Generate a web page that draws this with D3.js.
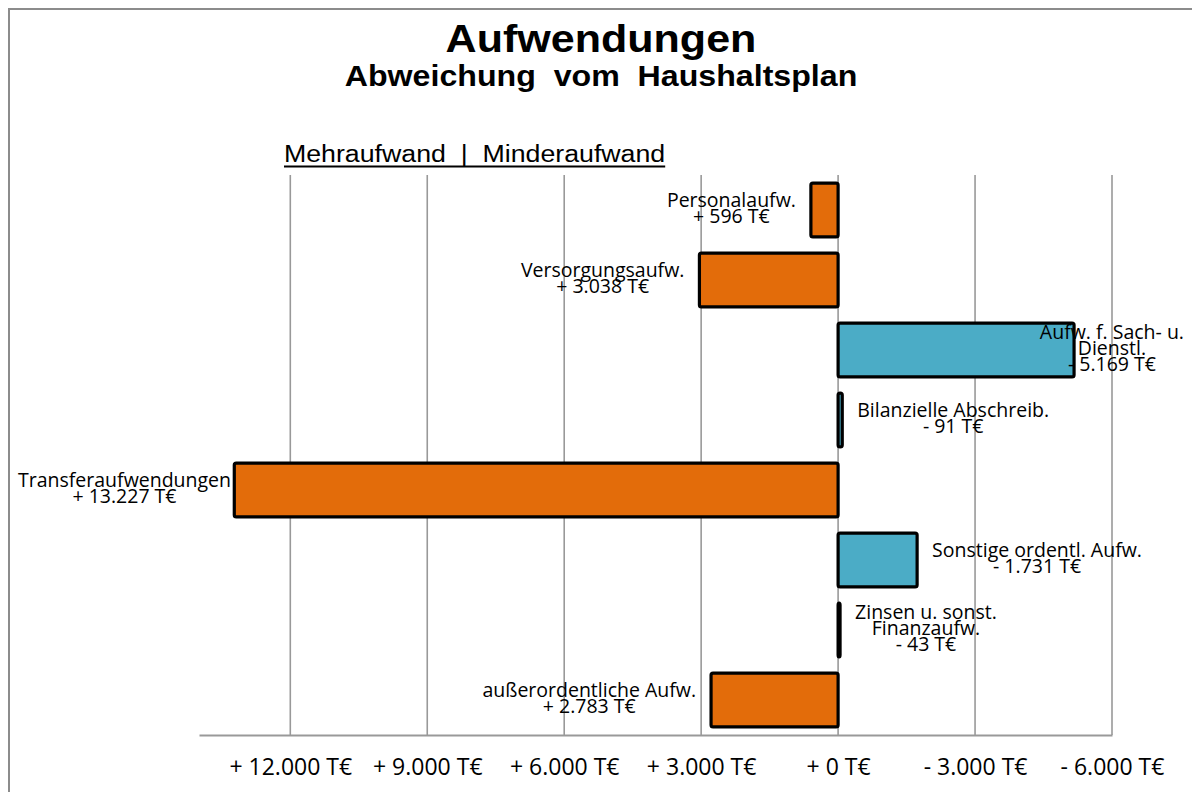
<!DOCTYPE html>
<html>
<head>
<meta charset="utf-8">
<script src="https://cdn.jsdelivr.net/npm/d3@7"></script>
<style>
  body { margin: 0; background: #fff; }
  svg { display: block; }
</style>
</head>
<body>
<svg width="1192" height="792"></svg>
<script>
// Daten: positive Werte = Mehraufwand (links), negative = Minderaufwand (rechts)
const categories = [
    "Personalaufw.",
    "Versorgungsaufw.",
    "Aufw. f. Sach- u.\nDienstl.",
    "Bilanzielle Abschreib.",
    "Transferaufwendungen",
    "Sonstige ordentl. Aufw.",
    "Zinsen u. sonst.\nFinanzaufw.",
    "außerordentliche Aufw."
];
const values = [596, 3038, -5169, -91, 13227, -1731, -43, 2783];
const tickValues = [12000, 9000, 6000, 3000, 0, -3000, -6000];
const axisDomain = [14000, -6000];

const title = "Aufwendungen";
const subtitle = "Abweichung  vom  Haushaltsplan";
const header = "Mehraufwand  |  Minderaufwand";

var svg = d3.select("svg");
var width = +svg.attr("width");
var height = +svg.attr("height");

var de = d3.formatLocale({decimal: ",", thousands: ".", grouping: [3], currency: ["", "€"]});
var num = de.format(",");
var fmt = v => (v >= 0 ? "+ " : "- ") + num(Math.abs(v)) + " T€";

var plot = {top: 175, bottom: 735, left: 199, right: 1112};
var labelFont = "'Open Sans', 'Noto Sans', sans-serif";

// Rahmen
svg.append("rect")
    .attr("x", 9).attr("y", 9)
    .attr("width", width + 20).attr("height", height + 20)
    .attr("fill", "none")
    .attr("stroke", "#8c8c8c")
    .attr("stroke-width", 2);

// Titel (leicht horizontal gestreckt wie im Original)
var stretch = (txt, x, y, size, weight) => {
    svg.append("g")
        .attr("transform", "translate(" + x + "," + y + ") scale(1.09,1)")
        .append("text")
        .attr("text-anchor", "middle")
        .attr("font-family", "Arial, 'Liberation Sans', sans-serif")
        .attr("font-size", size)
        .attr("font-weight", weight)
        .attr("fill", "#000")
        .style("white-space", "pre")
        .text(txt);
};
stretch(title, 601, 52, 39.5, "bold");
stretch(subtitle, 601, 86, 29.5, "bold");

// Kopfzeile Mehraufwand | Minderaufwand, unterstrichen
var hg = svg.append("g").attr("transform", "translate(284,162) scale(1.1,1)");
var ht = hg.append("text")
    .attr("font-family", "Arial, 'Liberation Sans', sans-serif")
    .attr("font-size", 24.3)
    .attr("fill", "#000")
    .style("white-space", "pre")
    .text(header);
var hw = ht.node().getComputedTextLength();
hg.append("line")
    .attr("x1", 0).attr("x2", hw)
    .attr("y1", 4.5).attr("y2", 4.5)
    .attr("stroke", "#000").attr("stroke-width", 1.8);

// Skalen
var xScale = d3.scaleLinear().domain(axisDomain).range([plot.left, plot.right]);
var yScale = d3.scaleBand()
    .domain(d3.range(categories.length))
    .range([plot.top, plot.bottom])
    .paddingInner(0.23)
    .paddingOuter(0.115);

// Gitternetz
svg.append("g").selectAll("line")
    .data(tickValues)
    .enter()
    .append("line")
    .attr("x1", d => xScale(d)).attr("x2", d => xScale(d))
    .attr("y1", plot.top).attr("y2", plot.bottom)
    .attr("stroke", "#999")
    .attr("stroke-width", 1.6);

// x-Achse
var xAxis = d3.axisBottom(xScale)
    .tickValues(tickValues)
    .tickSize(0)
    .tickPadding(24)
    .tickFormat(fmt);
var ax = svg.append("g")
    .attr("transform", "translate(0," + plot.bottom + ")")
    .call(xAxis);
ax.select(".domain")
    .attr("stroke", "#999")
    .attr("stroke-width", 2);
ax.selectAll("text")
    .attr("fill", "#000")
    .attr("font-family", labelFont)
    .attr("font-size", 23)
    .attr("dy", "0.68em");

// Balken
svg.append("g").selectAll("rect")
    .data(values)
    .enter()
    .append("rect")
    .attr("x", d => Math.min(xScale(0), xScale(d)))
    .attr("y", (d, i) => yScale(i))
    .attr("width", d => Math.abs(xScale(d) - xScale(0)))
    .attr("height", yScale.bandwidth())
    .attr("rx", 2).attr("ry", 2)
    .attr("fill", d => d >= 0 ? "#e36c0a" : "#4bacc6")
    .attr("stroke", "#000")
    .attr("stroke-width", 3.2);

// Beschriftungen neben den Balken
var gap = 15, lineH = 16;
var lg = svg.append("g");
values.forEach((v, i) => {
    var lines = categories[i].split("\n").concat([fmt(v)]);
    var cy = yScale(i) + yScale.bandwidth() / 2;
    var t = lg.append("text")
        .attr("font-family", labelFont)
        .attr("font-size", 19.5)
        .attr("fill", "#000")
        .attr("text-anchor", "middle");
    var spans = t.selectAll("tspan")
        .data(lines)
        .enter()
        .append("tspan")
        .attr("y", (d, k) => cy + 5 + (k - (lines.length - 1) / 2) * lineH)
        .text(d => d);
    var w = d3.max(spans.nodes(), n => n.getComputedTextLength());
    var end = xScale(v);
    var cx;
    if (v >= 0) {
        cx = end - gap - w / 2;
        cx = Math.max(cx, 18 + w / 2);
    } else {
        cx = end + gap + w / 2;
        cx = Math.min(cx, 1184 - w / 2);
    }
    spans.attr("x", cx);
});
</script>
</body>
</html>
